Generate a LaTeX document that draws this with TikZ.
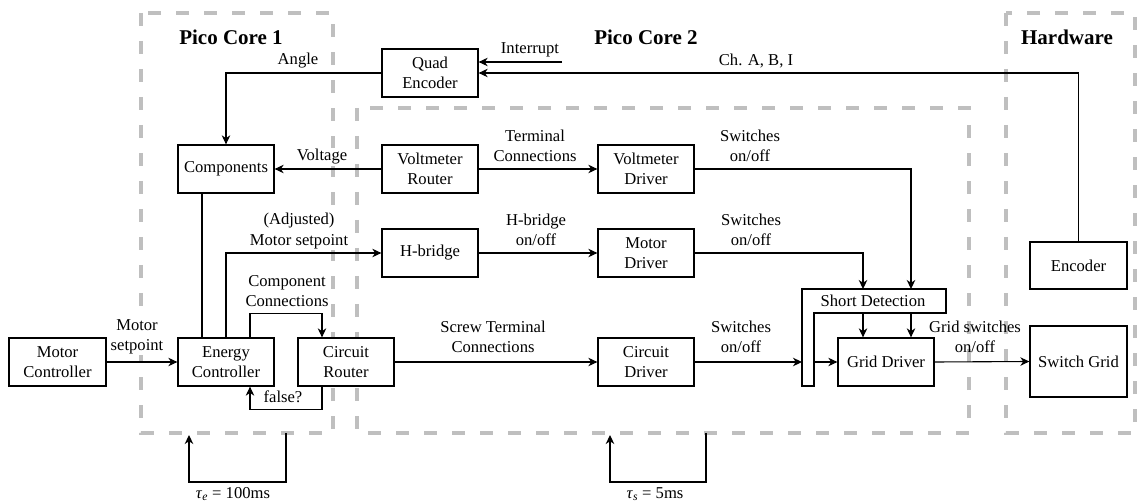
\documentclass[tikz,border=0pt]{standalone}
\usepackage{fontspec}
\setmainfont{Liberation Serif}
\newfontfamily\diagfont{Liberation Serif}
\usetikzlibrary{arrows.meta,calc}
\begin{document}
\begin{tikzpicture}[x=1pt,y=-1pt,
  font=\diagfont\fontsize{16.6}{20.5}\selectfont,
  blk/.style={draw, fill=white, line width=1.3pt, minimum width=96pt, minimum height=48pt, align=center, inner sep=0pt},
  lbl/.style={align=center, inner sep=1pt, fill=white},
  conn/.style={line width=1.1pt},
  arr/.style={conn, -{Stealth[length=9pt,width=8.5pt,inset=2.8pt]}},
  zone/.style={draw=black!25, line width=4pt, dash pattern=on 13pt off 15pt},
  title/.style={font=\diagfont\fontsize{21}{25}\selectfont\bfseries, inner sep=0pt}]
\useasboundingbox (0,0) rectangle (1137,502);

% processor / hardware regions
\draw[zone] (141,13) rectangle (333,433);
\draw[zone] (357,108) rectangle (969,433);
\draw[zone] (1006,13) rectangle (1135,433);
\node[title] (t1) at (231,37) {Pico Core 1};
\node[title] (t2) at (646,37) {Pico Core 2};
\node[title] (t3) at (1067,37) {Hardware};

% blocks
\node[blk] (quad) at (430,73) {Quad\\Encoder};
\node[blk] (comp) at (226,169) {Components};
\node[blk] (vrouter) at (430,169) {Voltmeter\\Router};
\node[blk] (vdriver) at (646,169) {Voltmeter\\Driver};
\node[blk] (hbridge) at (430,253) {H-bridge};
\node[blk] (mdriver) at (646,253) {Motor\\Driver};
\node[blk, minimum width=97pt] (mctrl) at (57.5,362) {Motor\\Controller};
\node[blk] (ectrl) at (226,362) {Energy\\Controller};
\node[blk] (crouter) at (346,362) {Circuit\\Router};
\node[blk] (cdriver) at (646,362) {Circuit\\Driver};
\node[blk] (grid) at (886,362) {Grid Driver};
\node[blk, minimum width=97pt, minimum height=47pt] (encoder) at (1078.5,265.5) {Encoder};
\node[blk, minimum width=97pt, minimum height=71pt] (sgrid) at (1078.5,361.5) {Switch Grid};

% short detection (L-shaped block)
\draw[line width=1.3pt, fill=white] (802,289) -- (946,289) -- (946,313) -- (814,313) -- (814,386) -- (802,386) -- cycle;
\node[inner sep=0pt] (short) at (873,301) {Short Detection};
\coordinate (sdtopA) at (863,289);
\coordinate (sdtopB) at (911,289);
\coordinate (sdbotA) at (863,313);
\coordinate (sdbotB) at (911,313);
\coordinate (sdin) at (802,362);
\coordinate (sdout) at (814,362);

% connectors
\coordinate (irq) at (562,62);
\draw[arr] (irq) -- (irq -| quad.east);
\draw[arr] (encoder.north) |- (quad.east);
\draw[arr] (quad.west) -| (comp.north);
\draw[arr] (vrouter.west) -- (comp.east);
\draw[arr] (vrouter.east) -- (vdriver.west);
\draw[arr] (vdriver.east) -| (sdtopB);
\draw[conn] ([xshift=-24pt]comp.south) -- ([xshift=-24pt]ectrl.north);
\draw[arr] (ectrl.north) |- (hbridge.west);
\draw[arr] (hbridge.east) -- (mdriver.west);
\draw[arr] (mdriver.east) -| (sdtopA);
\draw[arr] ([xshift=24pt]ectrl.north) -- ++(0,-24) -| ([xshift=-24pt]crouter.north);
\draw[arr] ([xshift=-24pt]crouter.south) -- ++(0,23) -| ([xshift=24pt]ectrl.south);
\draw[arr] (mctrl.east) -- (ectrl.west);
\draw[arr] (crouter.east) -- (cdriver.west);
\draw[arr] (cdriver.east) -- (sdin);
\draw[arr] (sdout) -- (grid.west);
\draw[arr] (sdbotA) -- (sdbotA |- grid.north);
\draw[arr] (sdbotB) -- (sdbotB |- grid.north);
\draw[arr] (grid.east) -- (sgrid.west);

% task periods
\coordinate (teA) at (286,433);
\coordinate (teB) at (189,435);
\draw[arr] (teA) -- ++(0,49) -| (teB);
\coordinate (tsA) at (706,433);
\coordinate (tsB) at (610,435);
\draw[arr] (tsA) -- ++(0,49) -| (tsB);

% connector labels
\node[lbl] (lirq) at (530,50) {Interrupt};
\node[lbl] (lch) at (756,61) {Ch. A, B, I};
\node[lbl] (lang) at (298,61) {Angle};
\node[lbl] (lvol) at (322,157) {Voltage};
\node[lbl] (lterm) at (535,146) {Terminal\\Connections};
\node[lbl] (lsw1) at (750,146) {Switches\\on/off};
\node[lbl] (ladj) at (299,231) {(Adjusted)\\Motor setpoint};
\node[lbl] (lhb) at (536,230) {H-bridge\\on/off};
\node[lbl] (lsw2) at (751,230) {Switches\\on/off};
\node[lbl] (lcc) at (287,291) {Component\\Connections};
\node[lbl] (lfalse) at (283,397) {false?};
\node[lbl] (lms) at (137,337) {Motor\\setpoint};
\node[lbl] (lscrew) at (493,337) {Screw Terminal\\Connections};
\node[lbl] (lsw3) at (741,337) {Switches\\on/off};
\node[lbl, fill=none] (lgrid) at (975,337) {Grid switches\\on/off};
\node[lbl] (lte) at (233,494) {\textit{τ}\textsubscript{\textit{e}} = 100ms};
\node[lbl] (lts) at (655,494) {\textit{τ}\textsubscript{\textit{s}} = 5ms};
\end{tikzpicture}
\end{document}
